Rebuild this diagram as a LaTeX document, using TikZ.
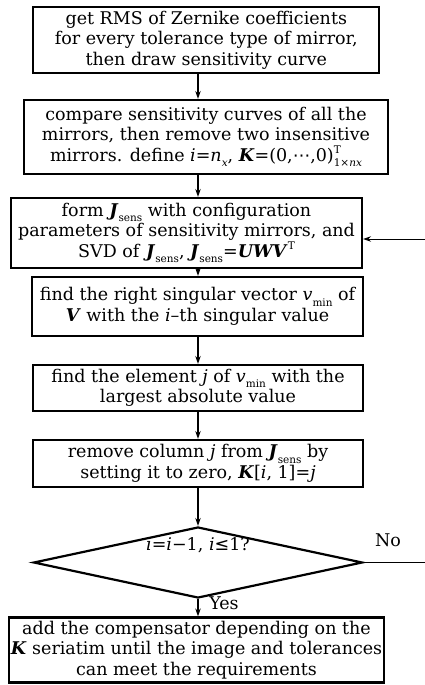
\documentclass[tikz,border=0pt]{standalone}
\usepackage{fontspec}
\setmainfont{DejaVu Serif}
\newfontfamily\symf{DejaVu Sans}
\usetikzlibrary{shapes.geometric,arrows.meta}
\newcommand\bv[1]{\textbf{\textit{#1}}}
\newcommand\lo[1]{\raisebox{-0.6ex}{\fontsize{10.5}{10.5}\selectfont #1}}
\newcommand\hi[1]{\raisebox{0.85ex}{\fontsize{10.5}{10.5}\selectfont #1}}
\tikzset{
  box/.style={draw, line width=2.2pt, align=center, inner sep=1pt,
    font=\fontsize{17.5}{20.5}\selectfont},
  dia/.style={draw, line width=2.2pt, diamond, aspect=4.6, inner sep=0pt},
  arr/.style={line width=1.2pt, -{Stealth[length=8pt,width=5.5pt]}},
  lbl/.style={font=\fontsize{17.5}{20}\selectfont, inner sep=0pt},
}
\begin{document}
\begin{tikzpicture}[x=1pt,y=-1pt]
\useasboundingbox (0,0) rectangle (425,685);
\clip (0,0) rectangle (425,685);
\coordinate (ax) at (198,0);
\coordinate (rx) at (428,0);
\node[box, minimum width=346pt, minimum height=66pt] (b1) at (206.3,40)
  {get RMS of Zernike coefficients\\for every tolerance type of mirror,\\then draw sensitivity curve};
\node[box, minimum width=364pt, minimum height=74pt] (b2) at (206,137)
  {compare sensitivity curves of all the\\mirrors, then remove two insensitive\\mirrors. define \textit{i}=\textit{n}\lo{\textit{x}}, \bv{K}=(0,{\symf ⋯},0)\rlap{\hi{T}}\lo{1×\textit{nx}}};
\node[box, minimum width=351pt, minimum height=70pt] (b3) at (186.5,233)
  {form \bv{J}\lo{sens} with configuration\\parameters of sensitivity mirrors, and\\SVD of \bv{J}\lo{sens}, \bv{J}\lo{sens}=\bv{UWV}\hi{T}};
\node[box, minimum width=331pt, minimum height=59pt] (b4) at (197.5,306.5)
  {find the right singular vector \textit{v}\lo{min} of\\\bv{V} with the \textit{i}–th singular value};
\node[box, minimum width=330pt, minimum height=46pt] (b5) at (198,388)
  {find the element \textit{j} of \textit{v}\lo{min} with the\\largest absolute value};
\node[box, minimum width=330pt, minimum height=47pt] (b6) at (198,463.5)
  {remove column \textit{j} from \bv{J}\lo{sens} by\\setting it to zero, \bv{K}[\textit{i}, 1]=\textit{j}};
\node[dia, minimum width=329pt, minimum height=71pt] (d) at (198,562.5) {};
\node[lbl] (dt) at (198,545) {\textit{i}=\textit{i}−1, \textit{i}{\symf ≤}1?};
\node[box, minimum width=375pt, minimum height=65pt] (b7) at (196.5,650)
  {add the compensator depending on the\\\bv{K} seriatim until the image and tolerances\\can meet the requirements};
\node[lbl] (no) at (388,540) {No};
\node[lbl] (yes) at (224,603) {Yes};
\coordinate (in3) at (362,239);
\draw[arr] (b1.south -| ax) -- (b2.north -| ax);
\draw[arr] (b2.south -| ax) -- (b3.north -| ax);
\draw[arr] (b3.south -| ax) -- (b4.north -| ax);
\draw[arr] (b4.south -| ax) -- (b5.north -| ax);
\draw[arr] (b5.south -| ax) -- (b6.north -| ax);
\draw[arr] (b6.south -| ax) -- (d.north);
\draw[arr] (d.south) -- (b7.north -| ax);
\draw[line width=0.9pt] (d.east) -- (d.east -| rx) -- (in3 -| rx);
\draw[line width=0.9pt, -{Stealth[length=8pt,width=5.5pt]}] (in3 -| rx) -- (b3.east |- in3);
\end{tikzpicture}
\end{document}
